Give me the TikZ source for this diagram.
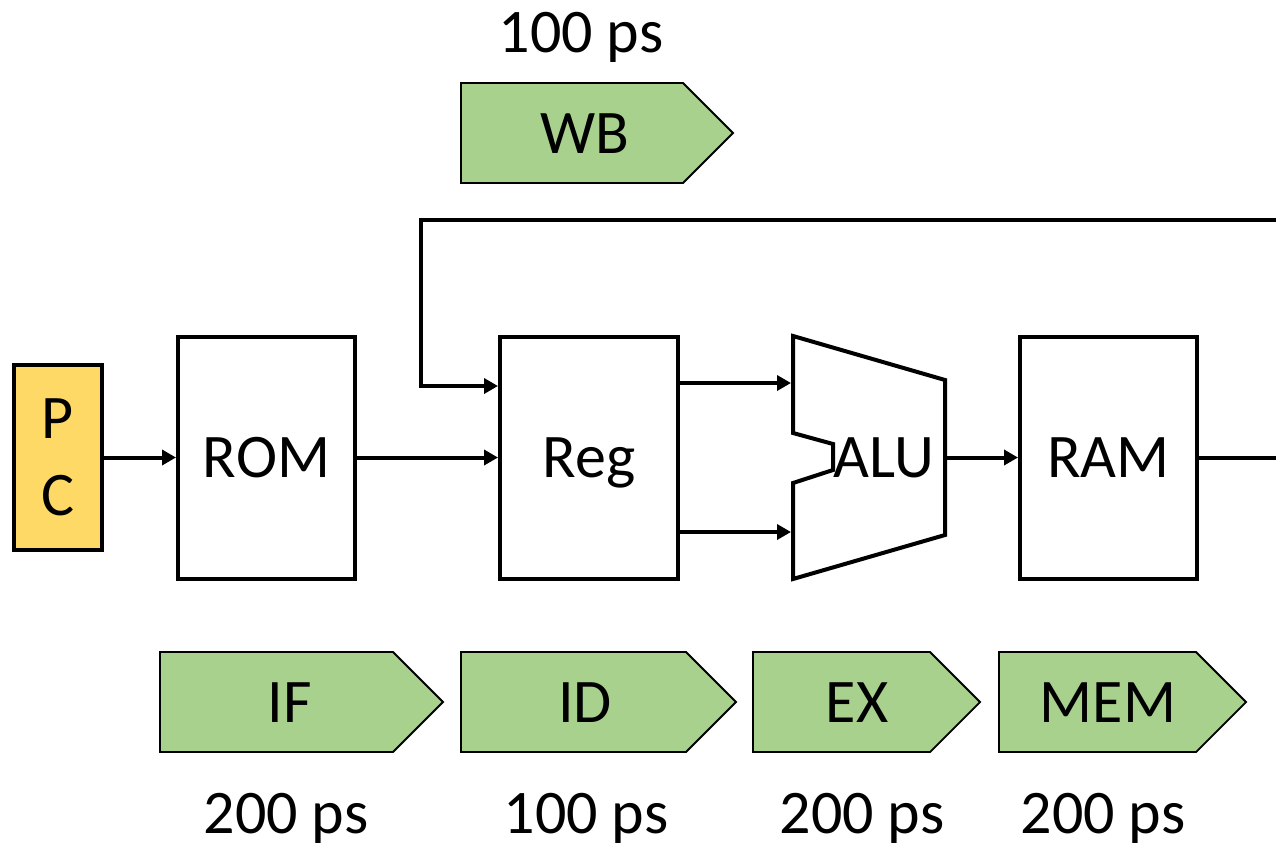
\documentclass[tikz,border=0pt]{standalone}
\usepackage{fontspec}
\setmainfont{Carlito}
\usetikzlibrary{arrows.meta}
\definecolor{stagegreen}{HTML}{A9D18E}
\definecolor{pcyellow}{HTML}{FFD966}
% pipeline stage chevron: left x, shoulder x, top y
\newcommand\stagechev[3]{%
  \draw[stage] (#1,#3) -- (#2,#3) -- ({#2+50},{#3+50}) -- (#2,{#3+100}) -- (#1,{#3+100}) -- cycle;}
\begin{document}
\begin{tikzpicture}[x=1pt,y=-1pt,
  big/.style={font=\fontsize{62}{76}\selectfont},
  blk/.style={draw, line width=4pt, fill=white, inner sep=0pt, big, text depth=0pt},
  wire/.style={line width=4pt, -{Triangle[length=14pt,width=15pt]}},
  bus/.style={line width=4pt},
  stage/.style={draw=black, line width=1.8pt, fill=stagegreen},
  lbl/.style={big, inner sep=0pt, anchor=base}]
\useasboundingbox (0,0) rectangle (1276,846);

% datapath blocks
\node[blk, fill=pcyellow, minimum width=88pt, minimum height=185pt, align=center,
      font=\fontsize{62}{77}\selectfont] (pc) at (58,457.5) {P\\C};
\node[blk, minimum width=177pt, minimum height=242pt] (rom) at (266.5,457.5) {ROM};
\node[blk, minimum width=178pt, minimum height=242pt] (reg) at (589,457.5) {Reg};
\node[blk, minimum width=177pt, minimum height=242pt] (ram) at (1108.5,457.5) {RAM};

% ALU outline with input notch
\draw[line width=4pt, line join=miter, fill=white]
  (793,336) -- (945,380) -- (945,535) -- (793,579) -- (793,483)
  -- (833,470) -- (833,444) -- (793,433) -- cycle;
\node[big, inner sep=0pt, text depth=0pt] (alu) at (884,458) {ALU};
\coordinate (aluA) at (791,383);
\coordinate (aluB) at (791,532);
\coordinate (aluOut) at (947,457.5);

% connections
\draw[wire] (pc.east) -- (rom.west);
\draw[wire] (rom.east) -- (reg.west);
\draw[wire] (reg.east |- aluA) -- (aluA);
\draw[wire] (reg.east |- aluB) -- (aluB);
\draw[wire] (aluOut) -- (ram.west);
\coordinate (ramOut) at (1276,457.5);
\draw[bus] (ram.east) -- (ramOut);

% write-back path into the register file
\coordinate (fbIn) at (1276,220);
\coordinate (fbCorner) at (421,386);
\draw[wire, line join=miter] (fbIn) -| (fbCorner) -- (reg.west |- fbCorner);

% pipeline stages
\stagechev{461}{683}{83}
\node[lbl] (wb) at (585,153) {WB};
\node[lbl] (wbt) at (581,52) {100 ps};

\stagechev{160}{393}{652}
\node[lbl] (if) at (290,722) {IF};
\stagechev{461}{686}{652}
\node[lbl] (id) at (585,722) {ID};
\stagechev{753}{930}{652}
\node[lbl] (ex) at (857,722) {EX};
\stagechev{999}{1196}{652}
\node[lbl] (mem) at (1108,722) {MEM};

\node[lbl] (ift) at (286,833) {200 ps};
\node[lbl] (idt) at (586,833) {100 ps};
\node[lbl] (ext) at (862,833) {200 ps};
\node[lbl] (memt) at (1103,833) {200 ps};
\end{tikzpicture}
\end{document}
